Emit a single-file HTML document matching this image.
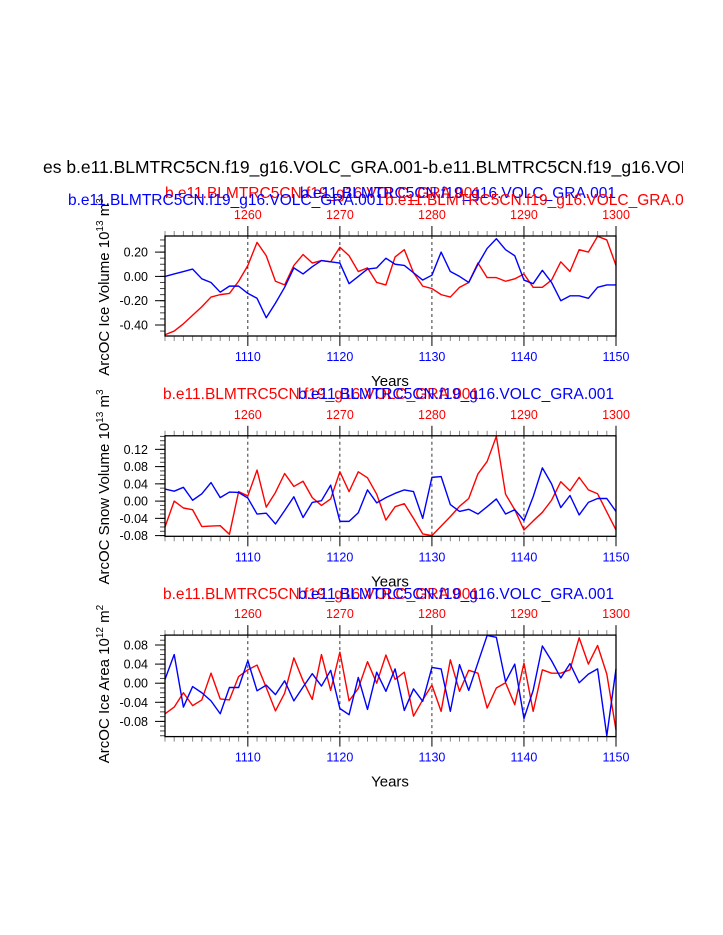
<!DOCTYPE html>
<html><head><meta charset="utf-8"><style>
html,body{margin:0;padding:0;background:#fff;}
svg{display:block;font-family:"Liberation Sans",Arial,sans-serif;}
</style></head><body>
<svg id="chart" width="723" height="935" xmlns="http://www.w3.org/2000/svg">
<defs><clipPath id="pageclip"><rect x="0" y="0" width="683" height="935"/></clipPath></defs>
<text x="43" y="173" font-size="17.5" clip-path="url(#pageclip)" textLength="660" lengthAdjust="spacingAndGlyphs">es b.e11.BLMTRC5CN.f19_g16.VOLC_GRA.001-b.e11.BLMTRC5CN.f19_g16.VOLC</text>
<g id="plots"></g>
</svg>
<script>
var years = [];
for (var i = 1101; i <= 1150; i++) years.push(i);
var bottomTicks = [1110, 1120, 1130, 1140, 1150];
var topTicks = [1260, 1270, 1280, 1290, 1300];

var iceVolBlue = [0.00,0.02,0.04,0.06,-0.02,-0.05,-0.13,-0.08,-0.08,-0.14,-0.18,-0.34,-0.22,-0.09,0.07,0.02,0.08,0.13,0.12,0.11,-0.06,0.00,0.06,0.07,0.15,0.10,0.09,0.03,-0.03,0.01,0.20,0.04,0.00,-0.05,0.10,0.23,0.31,0.22,0.17,-0.03,-0.06,0.05,-0.05,-0.20,-0.16,-0.16,-0.18,-0.09,-0.07,-0.07];
var iceVolRed = [-0.48,-0.45,-0.39,-0.32,-0.25,-0.17,-0.15,-0.14,-0.04,0.09,0.28,0.17,-0.04,-0.07,0.09,0.18,0.11,0.13,0.12,0.24,0.17,0.04,0.07,-0.05,-0.07,0.16,0.22,0.03,-0.08,-0.10,-0.15,-0.17,-0.09,-0.05,0.11,-0.01,-0.01,-0.04,-0.02,0.02,-0.09,-0.09,-0.03,0.12,0.04,0.22,0.20,0.33,0.30,0.09];
var iceVolTicks = [0.20, 0.00, -0.20, -0.40];
var iceVolLabels = ["0.20", "0.00", "-0.20", "-0.40"];

var snowBlue = [0.028,0.023,0.032,0.002,0.017,0.043,0.008,0.021,0.020,0.007,-0.030,-0.028,-0.053,-0.022,0.010,-0.038,-0.003,0.001,0.037,-0.047,-0.047,-0.027,0.026,-0.004,0.008,0.018,0.026,0.022,-0.040,0.055,0.057,-0.008,-0.024,-0.019,-0.030,-0.013,0.005,-0.030,-0.020,-0.045,0.010,0.077,0.040,-0.015,0.013,-0.032,-0.003,0.006,0.006,-0.024];
var snowRed = [-0.060,0.000,-0.016,-0.020,-0.059,-0.058,-0.057,-0.077,0.022,0.012,0.072,-0.014,0.020,0.064,0.034,0.046,0.008,-0.010,0.005,0.068,0.022,0.068,0.054,0.016,-0.044,-0.013,-0.006,-0.040,-0.076,-0.080,-0.058,-0.036,-0.012,0.006,0.063,0.092,0.150,0.016,-0.020,-0.067,-0.046,-0.026,0.002,0.045,0.024,0.055,0.026,0.017,-0.025,-0.067];
var snowTicks = [0.12, 0.08, 0.04, 0.00, -0.04, -0.08];
var snowLabels = ["0.12", "0.08", "0.04", "0.00", "-0.04", "-0.08"];

var areaBlue = [0.008,0.060,-0.050,-0.007,-0.020,-0.037,-0.064,-0.009,-0.009,0.047,-0.016,-0.004,-0.024,0.005,-0.037,-0.008,0.020,-0.006,0.027,-0.053,-0.066,0.012,-0.055,0.023,-0.017,0.030,-0.057,-0.012,-0.038,0.033,0.030,-0.059,0.039,-0.015,0.043,0.100,0.096,0.003,0.040,-0.074,-0.015,0.078,0.047,0.011,0.041,0.001,0.019,0.030,-0.110,0.030];
var areaRed = [-0.064,-0.050,-0.020,-0.047,-0.035,0.021,-0.033,-0.035,0.014,0.028,0.038,-0.009,-0.058,-0.021,0.053,0.005,-0.034,0.060,-0.015,0.065,-0.037,-0.011,0.045,0.000,0.059,0.008,0.023,-0.069,-0.035,-0.004,-0.059,0.049,-0.017,0.027,0.021,-0.052,-0.010,0.001,-0.045,0.042,-0.059,0.028,0.021,0.021,0.028,0.095,0.040,0.079,0.019,-0.098];
var areaTicks = [0.08, 0.04, 0.00, -0.04, -0.08];
var areaLabels = ["0.08", "0.04", "0.00", "-0.04", "-0.08"];

var NS = "http://www.w3.org/2000/svg";
var root = document.getElementById("plots");
function mk(tag, attrs, parent) {
  var e = document.createElementNS(NS, tag);
  for (var k in attrs) e.setAttribute(k, attrs[k]);
  (parent || root).appendChild(e);
  return e;
}
var X0 = 165, X1 = 616;
function xScale(yr) { return X0 + (yr - 1101) * (X1 - X0) / 49; }

function panel(cfg) {
  var g = mk("g", {});
  
  
  function yScale(v) { return cfg.y0 - v * cfg.pxPerUnit; }
  var top = cfg.top, bot = cfg.bot;
  // dashed lines
  bottomTicks.slice(0, 4).forEach(function (t) {
    var l = mk("line", {x1: xScale(t), x2: xScale(t), y1: top, y2: bot, stroke: "#000", "stroke-width": 0.8, "stroke-dasharray": "3,3"}, g);
    
    
  });
  // x ticks
  for (var yr = 1101; yr <= 1150; yr++) {
    var major = (yr % 10 === 0);
    var len = major ? 10 : 5;
    var xx = xScale(yr);
    mk("line", {x1: xx, x2: xx, y1: top, y2: top - len, stroke: major ? "#000" : "#888", "stroke-width": 1}, g);
    mk("line", {x1: xx, x2: xx, y1: bot, y2: bot + len, stroke: major ? "#000" : "#888", "stroke-width": 1}, g);
  }
  // y ticks
  var step = cfg.minor;
  for (var v = Math.ceil(cfg.vmin / step) * step; v <= cfg.vmax + 1e-9; v += step) {
    var yy = yScale(v);
    if (yy < top - 0.5 || yy > bot + 0.5) continue;
    mk("line", {x1: X0, x2: X0 - 5, y1: yy, y2: yy, stroke: "#444", "stroke-width": 1}, g);
  }
  cfg.ticks.forEach(function (t, i) {
    var yy = yScale(t);
    mk("line", {x1: X0, x2: X0 - 10, y1: yy, y2: yy, stroke: "#000", "stroke-width": 1}, g);
    var tx = mk("text", {x: 148, y: yy + 4.5, "font-size": 12.5, "text-anchor": "end"}, g);
    tx.textContent = cfg.labels[i];
    
    
  });
  bottomTicks.forEach(function (t) {
    var tx = mk("text", {x: xScale(t), y: bot + 25, "font-size": 12.5, "text-anchor": "middle", fill: "#0000ff"}, g);
    tx.textContent = t;
    
    
  });
  topTicks.forEach(function (t) {
    var tx = mk("text", {x: xScale(t - 150), y: top - 17, "font-size": 12.5, "text-anchor": "middle", fill: "#ff0000"}, g);
    tx.textContent = t;
    
    
  });
  // series
  function line(vals, color, name) {
    var d = "";
    vals.forEach(function (v, i) { d += (i ? "L" : "M") + xScale(years[i]).toFixed(2) + "," + yScale(v).toFixed(2); });
    var p = mk("path", {d: d, fill: "none", stroke: color, "stroke-width": 1.4, "stroke-linejoin": "round"}, g);
    
    
  }
  line(cfg.red, "#ff0000", "red-series");
  line(cfg.blue, "#0000ff", "blue-series");
  var fr = mk("rect", {x: X0, y: top, width: X1 - X0, height: bot - top, fill: "none", stroke: "#000", "stroke-width": 1.3}, g);
  
  
  // x title
  var xt = mk("text", {x: 390, y: bot + 50, "font-size": 15, "text-anchor": "middle"}, g);
  xt.textContent = "Years";
  
  
  // y title
  var cy = cfg.ytitleY;
  var yt = mk("text", {x: 0, y: 0, "font-size": 15, "text-anchor": "middle", transform: "translate(109," + cy + ") rotate(-90)"}, g);
  
  
  yt.innerHTML = cfg.ytitle;
  // subtitles
  cfg.subs.forEach(function (s) {
    var st = mk("text", {x: s[0], y: s[1], "font-size": 16, fill: s[2], textLength: 316, lengthAdjust: "spacingAndGlyphs", "clip-path": "url(#pageclip)"}, g);
    st.textContent = "b.e11.BLMTRC5CN.f19_g16.VOLC_GRA.001";
    
    
  });
}

panel({name: "ice-volume-panel", top: 236, bot: 336, y0: 276.4, pxPerUnit: 121.5, vmin: -0.49, vmax: 0.33, minor: 0.05,
  ticks: iceVolTicks, labels: iceVolLabels, red: iceVolRed, blue: iceVolBlue, ytitleY: 287,
  ytitle: 'ArcOC Ice Volume 10<tspan font-size="10" dy="-6">13</tspan><tspan dy="6"> m</tspan><tspan font-size="10" dy="-6">3</tspan>',
  subs: [[165, 198, "#ff0000"], [300, 198, "#0000ff"], [68, 205, "#0000ff"], [385, 205, "#ff0000"]]});
panel({name: "snow-volume-panel", top: 435.8, bot: 536.3, y0: 501.1, pxPerUnit: 431.25, vmin: -0.082, vmax: 0.152, minor: 0.01,
  ticks: snowTicks, labels: snowLabels, red: snowRed, blue: snowBlue, ytitleY: 487,
  ytitle: 'ArcOC Snow Volume 10<tspan font-size="10" dy="-6">13</tspan><tspan dy="6"> m</tspan><tspan font-size="10" dy="-6">3</tspan>',
  subs: [[163, 399, "#ff0000"], [298, 399, "#0000ff"]]});
panel({name: "ice-area-panel", top: 635.1, bot: 736.6, y0: 683.2, pxPerUnit: 477.5, vmin: -0.112, vmax: 0.1, minor: 0.01,
  ticks: areaTicks, labels: areaLabels, red: areaRed, blue: areaBlue, ytitleY: 684,
  ytitle: 'ArcOC Ice Area 10<tspan font-size="10" dy="-6">12</tspan><tspan dy="6"> m</tspan><tspan font-size="10" dy="-6">2</tspan>',
  subs: [[163, 599, "#ff0000"], [298, 599, "#0000ff"]]});
</script>
</body></html>
